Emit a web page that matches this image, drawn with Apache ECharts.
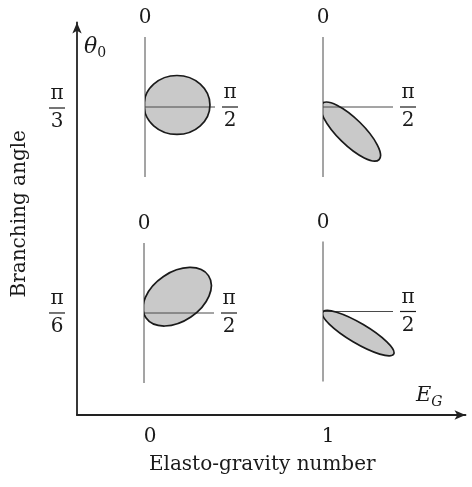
<!DOCTYPE html>
<html>
<head>
<meta charset="utf-8">
<script src="https://cdn.jsdelivr.net/npm/echarts@6/dist/echarts.min.js"></script>
<style>
  html, body { margin: 0; padding: 0; background: #fff; }
  #chart { width: 472px; height: 487px; }
</style>
</head>
<body>
<div id="chart"></div>
<script>
// main axes: elasto-gravity number and branching angle
const egTicks = [0, 1];
const angleTicks = [Math.PI / 6, Math.PI / 3];
const angleTickLabels = [["π", "6"], ["π", "3"]];

// labels of each small polar plot (degrees, clockwise from the top)
const panelTickLabels = { 0: ["0"], 90: ["π", "2"] };

// spokes of each small polar plot, [radius, angle]
const verticalSpoke = [[1, 0], [0, 0], [1, 180]];
const rightSpoke = [[0, 90], [1, 90]];

// lobes, as ellipses:
// [centre radius, centre angle, half length, half width, tilt angle]
const lobeEG0Pi3 = [0.458, 86.4, 0.471, 0.421, 90];
const lobeEG1Pi3 = [0.528, 131.7, 0.571, 0.187, 134.5];
const lobeEG0Pi6 = [0.528, 63.9, 0.539, 0.35, 56];
const lobeEG1Pi6 = [0.59, 121.6, 0.589, 0.143, 120.6];

const lobes = [lobeEG0Pi3, lobeEG1Pi3, lobeEG0Pi6, lobeEG1Pi6];
const panelCenters = [[145, 107], [323, 107], [144, 313], [323, 311.5]];
const radiusMax = 1.2;
const spokePx = 70;

const serif = "DejaVu Serif";
const ink = "#1a1a1a";

const fracRich = {
  z: { fontSize: 20, fontFamily: serif, color: ink, padding: [0, 0, 2, 0] },
  n: { fontSize: 20, lineHeight: 22, align: "center", fontFamily: serif, color: ink },
  b: { width: 16, height: 1.2, lineHeight: 6, fontSize: 1, align: "center", backgroundColor: ink },
  d: { fontSize: 20, lineHeight: 22, align: "center", fontFamily: serif, color: ink },
};

function fracText(parts) {
  if (!parts) return "";
  if (parts.length === 1) return "{z|" + parts[0] + "}";
  return "{n|" + parts[0] + "}\n{b| }\n{d|" + parts[1] + "}";
}

// lobes only live on the angles 0..180, i.e. right of the vertical spoke
function lobeRenderer(style) {
  return (params, api) => {
    const c = api.coord([api.value(0), api.value(1)]);
    const o = api.coord([0, 0]);
    const unit = api.coord([1, 90])[0] - o[0];
    return {
      type: "group",
      clipPath: {
        type: "rect",
        shape: { x: o[0], y: o[1] - 2 * unit, width: 2 * unit, height: 4 * unit },
      },
      children: [
        {
          type: "ellipse",
          x: c[0],
          y: c[1],
          rotation: ((90 - api.value(4)) * Math.PI) / 180,
          shape: { cx: 0, cy: 0, rx: api.value(2) * unit, ry: api.value(3) * unit },
          style: style,
        },
      ],
    };
  };
}

const polar = [];
const angleAxis = [];
const radiusAxis = [];
const series = [];

lobes.forEach((lobe, i) => {
  polar.push({ center: panelCenters[i], radius: spokePx * radiusMax });
  angleAxis.push({
    polarIndex: i,
    type: "value",
    min: 0,
    max: 360,
    interval: 90,
    startAngle: 90,
    clockwise: true,
    axisLine: { show: false },
    axisTick: { show: false },
    splitLine: { show: false },
    axisLabel: {
      margin: 7 - spokePx * (radiusMax - 1),
      formatter: (v) => fracText(panelTickLabels[v]),
      rich: fracRich,
    },
  });
  radiusAxis.push({ polarIndex: i, type: "value", min: 0, max: radiusMax, show: false });

  series.push({
    type: "custom",
    coordinateSystem: "polar",
    polarIndex: i,
    data: [lobe],
    silent: true,
    renderItem: lobeRenderer({ fill: "#c9c9c9", stroke: null }),
    z: 1,
  });
  [verticalSpoke, rightSpoke].forEach((spoke) => {
    series.push({
      type: "line",
      coordinateSystem: "polar",
      polarIndex: i,
      data: spoke,
      symbol: "none",
      clip: false,
      silent: true,
      lineStyle: { color: "#4a4a4a", width: 1 },
      z: 2,
    });
  });
  series.push({
    type: "custom",
    coordinateSystem: "polar",
    polarIndex: i,
    data: [lobe],
    silent: true,
    renderItem: lobeRenderer({ fill: null, stroke: ink, lineWidth: 1.7 }),
    z: 3,
  });
});

const chart = echarts.init(document.getElementById("chart"));

chart.setOption({
  animation: false,
  backgroundColor: "#fff",
  grid: { left: 77, top: 22.5, right: 6.5, bottom: 72, outerBoundsMode: "none" },
  xAxis: {
    type: "value",
    min: -0.41,
    max: 1.772,
    name: "Elasto-gravity number",
    nameLocation: "middle",
    nameGap: 40,
    nameTextStyle: { fontFamily: serif, fontSize: 20, color: ink, padding: [0, 18, 0, 0] },
    axisLine: {
      onZero: false,
      symbol: ["none", "arrow"],
      symbolSize: [7, 11],
      lineStyle: { color: "#222", width: 1.8 },
    },
    axisTick: { show: false },
    splitLine: { show: false },
    axisLabel: {
      customValues: egTicks,
      margin: 12,
      fontFamily: serif,
      fontSize: 20,
      color: ink,
      formatter: (v) => String(v),
    },
  },
  yAxis: {
    type: "value",
    min: 0.263,
    max: 1.2656,
    name: "Branching angle",
    nameLocation: "middle",
    nameRotate: 90,
    nameGap: 47,
    nameTextStyle: { fontFamily: serif, fontSize: 20, color: ink, padding: [0, 0, 0, 10] },
    axisLine: {
      onZero: false,
      symbol: ["none", "arrow"],
      symbolSize: [7, 11],
      lineStyle: { color: "#222", width: 1.8 },
    },
    axisTick: { show: false },
    splitLine: { show: false },
    axisLabel: {
      customValues: angleTicks,
      margin: 12,
      formatter: (v) => {
        const k = angleTicks.findIndex((t) => Math.abs(t - v) < 1e-6);
        return k < 0 ? "" : fracText(angleTickLabels[k]);
      },
      rich: fracRich,
    },
  },
  polar: polar,
  angleAxis: angleAxis,
  radiusAxis: radiusAxis,
  graphic: [
    {
      type: "text",
      x: 84,
      y: 34,
      style: {
        text: "{t|θ}{s|0}",
        rich: {
          t: { fontFamily: serif, fontStyle: "italic", fontSize: 22, lineHeight: 26, fill: ink },
          s: { fontFamily: serif, fontSize: 14, lineHeight: 26, verticalAlign: "bottom", fill: ink },
        },
      },
    },
    {
      type: "text",
      x: 416,
      y: 383,
      style: {
        text: "{t|E}{s|G}",
        rich: {
          t: { fontFamily: serif, fontStyle: "italic", fontSize: 21, lineHeight: 26, fill: ink },
          s: { fontFamily: serif, fontStyle: "italic", fontSize: 14, lineHeight: 26, verticalAlign: "bottom", fill: ink },
        },
      },
    },
  ],
  series: series,
});
</script>
</body>
</html>
